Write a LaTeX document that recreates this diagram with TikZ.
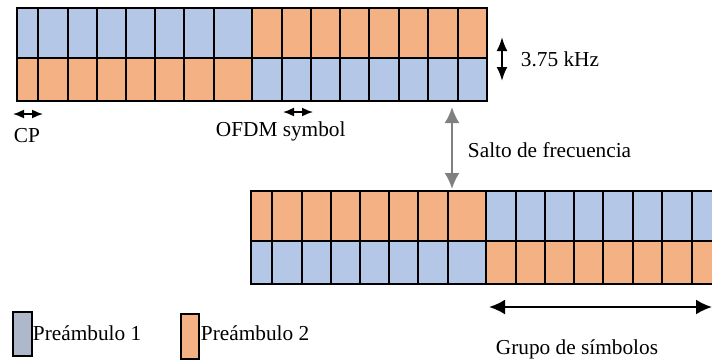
\documentclass[tikz,border=0pt]{standalone}
\usepackage{fontspec}
\setmainfont{Liberation Serif}
\usepackage{tikz}
\usetikzlibrary{arrows.meta}
\definecolor{pb}{RGB}{180, 199, 231}
\definecolor{po}{RGB}{244, 177, 131}
\definecolor{pg}{RGB}{173, 185, 202}
\definecolor{hopgray}{RGB}{128, 128, 128}

\begin{document}
\begin{tikzpicture}[x = 1pt, y = -1pt, line width = 1.9pt, font = \fontsize{21.3}{25}\selectfont,
  lbl/.style = {inner sep = 0pt, anchor = base west},
  small/.style = {{Latex[length = 11pt, width = 9pt]}-{Latex[length = 11pt, width = 9pt]}, line width = 1.6pt},
  big/.style = {{Latex[length = 16pt, width = 15pt]}-{Latex[length = 16pt, width = 15pt]}, line width = 2.2pt}]
\useasboundingbox (0,0) rectangle (712,360);
\clip (0,0) rectangle (712,360);
\begin{scope}[shift = {(17,8)}]
\fill[pb] (0,0) rectangle (235,50);
\fill[po] (235,0) rectangle (470,50);
\fill[po] (0,50) rectangle (235,93);
\fill[pb] (235,50) rectangle (470,93);
\foreach \x in {21,51,80,109,138,167,197,235,265,294,323,352,382,411,441}
{
\draw (\x,0) -- (\x,93);
}
\draw (0,50) -- (470,50);
\draw (0,0) rectangle (470,93);
\coordinate (hop-a) at (435,93);
\end{scope}
\begin{scope}[shift = {(251,191)}]
\fill[po] (0,0) rectangle (235,50);
\fill[pb] (235,0) rectangle (470,50);
\fill[pb] (0,50) rectangle (235,93);
\fill[po] (235,50) rectangle (470,93);
\foreach \x in {21,51,80,109,138,167,197,235,265,294,323,352,382,411,441}
{
\draw (\x,0) -- (\x,93);
}
\draw (0,50) -- (470,50);
\draw (0,0) rectangle (470,93);
\coordinate (hop-b) at (201,0);
\end{scope}
\coordinate (cp-a) at (13,114);
\coordinate (cp-b) at (43,114);
\coordinate (sym-a) at (283,112);
\coordinate (sym-b) at (313,112);
\coordinate (bw-a) at (502,37);
\coordinate (bw-b) at (502,81);
\coordinate (grp-a) at (489,307);
\coordinate (grp-b) at (712,307);
\draw[small] (cp-a) -- (cp-b);
\draw[small] (sym-a) -- (sym-b);
\draw[big, {Latex[length = 14pt, width = 11pt]}-{Latex[length = 14pt, width = 11pt]}] (bw-a) -- (bw-b);
\draw[big, hopgray, shorten <= 6pt, shorten >= 2pt] (hop-a) -- (hop-b);
\draw[big] (grp-a) -- (grp-b);
\node[lbl] (cp) at (13,142) {CP};
\node[lbl] (sym) at (215,136) {OFDM symbol};
\node[lbl] (bw) at (520,66) {3.75 kHz};
\node[lbl] (hop) at (467,157) {Salto de frecuencia};
\node[lbl] (grp) at (495,354) {Grupo de símbolos};
\draw[fill = pg] (13,312) rectangle (32,356);
\node[lbl] (pre1) at (32,340) {Preámbulo 1};
\draw[fill = po] (181,314) rectangle (199,359);
\node[lbl] (pre2) at (200,340) {Preámbulo 2};
\end{tikzpicture}
\end{document}
